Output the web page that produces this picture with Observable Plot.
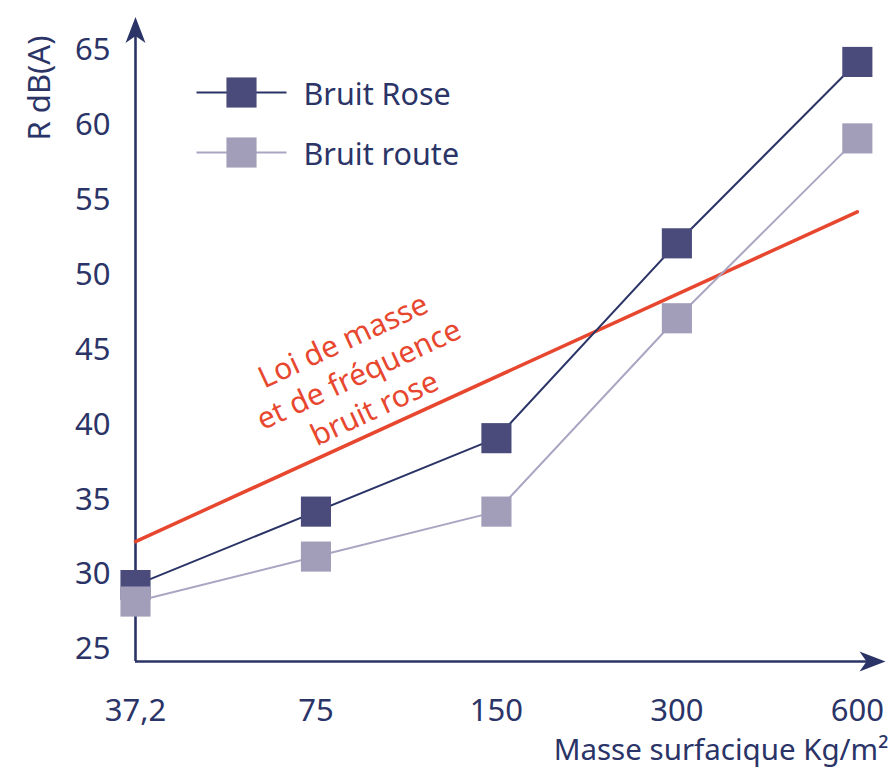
<!DOCTYPE html>
<html><head><meta charset="utf-8">
<script src="https://cdn.jsdelivr.net/npm/d3@7"></script>
<script src="https://cdn.jsdelivr.net/npm/@observablehq/plot@0.6"></script>
<style>body{margin:0;background:#fff}</style>
</head><body><div id="chart"></div>
<script>
// ---- data ----
const categories = ["37,2", "75", "150", "300", "600"];
const bruitRose  = [29.3, 34.2, 39.1, 52.1, 64.2];
const bruitRoute = [28.2, 31.2, 34.2, 47.1, 59.1];
const loiDeMasse = [32.2, 54.2];          // value at first and last category
const yTicks = [25, 30, 35, 40, 45, 50, 55, 60, 65];
const seriesNames = ["Bruit Rose", "Bruit route"];
const annotationText = "Loi de masse\net de fréquence\nbruit rose";
const yLabel = "R dB(A)";
const xLabel = "Masse surfacique Kg/m²";

// ---- layout / style ----
const W = 893, H = 769;
const yMin = 24.2, yMax = 67.5, yTip = 67.2, xTip = 4.156;
const navy = "#2b3467", dark = "#4a4b7b", light = "#a29db9", lightLine = "#aaa5c2", red = "#e8472f";
const font = '"Noto Sans", sans-serif';
const fs = 31;

const idx = categories.map((_, i) => i);
const rose = idx.map(i => ({i, v: bruitRose[i]}));
const route = idx.map(i => ({i, v: bruitRoute[i]}));
const loi = [{i: 0, v: loiDeMasse[0]}, {i: categories.length - 1, v: loiDeMasse[1]}];

const arrowHead = {draw(ctx) { ctx.moveTo(0, 0); ctx.lineTo(10, 26); ctx.lineTo(0, 19); ctx.lineTo(-10, 26); ctx.closePath(); }};
const legendLine = {draw(ctx) { ctx.moveTo(-45, 0); ctx.lineTo(45, 0); }};

// annotation anchored on a point of the mass-law line
const annX = 1.233;
const annY = loiDeMasse[0] + (loiDeMasse[1] - loiDeMasse[0]) * annX / (categories.length - 1);

const chart = Plot.plot({
  width: W, height: H,
  marginLeft: 135, marginRight: W - 885, marginTop: 12, marginBottom: 108,
  style: {fontFamily: font, background: "#fff", overflow: "visible"},
  x: {type: "linear", domain: [0, xTip], axis: null},
  y: {domain: [yMin, yMax], axis: null},
  marks: [
    Plot.axisY(yTicks, {tickSize: 0, tickPadding: 25, fontSize: fs, fill: navy, label: null}),
    Plot.axisX(idx, {tickSize: 0, tickPadding: 37, fontSize: fs, fill: navy, label: null, tickFormat: i => categories[i]}),
    // axes with arrows
    Plot.ruleX([0], {y1: yMin, y2: yTip - 0.5, stroke: navy, strokeWidth: 2.6}),
    Plot.ruleY([yMin], {x1: 0, x2: xTip - 0.05, stroke: navy, strokeWidth: 2.6}),
    Plot.dot([0], {x: 0, y: yTip, symbol: arrowHead, fill: navy, stroke: null}),
    Plot.dot([0], {x: xTip, y: yMin, symbol: arrowHead, fill: navy, stroke: null, rotate: 90}),
    // red mass law line
    Plot.line(loi, {x: "i", y: "v", stroke: red, strokeWidth: 3.5}),
    Plot.text([annotationText], {x: annX, y: annY, dy: -67, text: d => d, rotate: -25, fill: red, fontSize: 30, lineHeight: 1.24, textAnchor: "middle", lineAnchor: "middle"}),
    // series
    Plot.line(rose, {x: "i", y: "v", stroke: navy, strokeWidth: 2}),
    Plot.dot(rose, {x: "i", y: "v", symbol: "square", r: 17, fill: dark, stroke: null}),
    Plot.line(route, {x: "i", y: "v", stroke: lightLine, strokeWidth: 2}),
    Plot.dot(route, {x: "i", y: "v", symbol: "square", r: 17, fill: light, stroke: null}),
    // legend
    Plot.dot([0], {frameAnchor: "top-left", dx: 106, dy: 80, symbol: legendLine, stroke: navy, strokeWidth: 2, fill: "none"}),
    Plot.dot([0], {frameAnchor: "top-left", dx: 106, dy: 80, symbol: "square", r: 17, fill: dark, stroke: null}),
    Plot.dot([0], {frameAnchor: "top-left", dx: 106, dy: 140, symbol: legendLine, stroke: lightLine, strokeWidth: 2, fill: "none"}),
    Plot.dot([0], {frameAnchor: "top-left", dx: 106, dy: 140, symbol: "square", r: 17, fill: light, stroke: null}),
    Plot.text([seriesNames[0]], {frameAnchor: "top-left", dx: 168, dy: 82.5, text: d => d, fill: navy, fontSize: 30.5, textAnchor: "start", lineAnchor: "middle"}),
    Plot.text([seriesNames[1]], {frameAnchor: "top-left", dx: 168, dy: 142.5, text: d => d, fill: navy, fontSize: 30.5, textAnchor: "start", lineAnchor: "middle"}),
    // axis labels
    Plot.text([yLabel], {frameAnchor: "top-left", dx: -95, dy: 75.5, text: d => d, rotate: -90, fill: navy, fontSize: fs, textAnchor: "middle", lineAnchor: "middle"}),
    Plot.text([xLabel], {frameAnchor: "bottom-right", dx: 3, dy: 89.5, text: d => d, textAnchor: "end", lineAnchor: "middle", fill: navy, fontSize: 29.5})
  ]
});
document.getElementById("chart").appendChild(chart);
</script>
</body></html>
